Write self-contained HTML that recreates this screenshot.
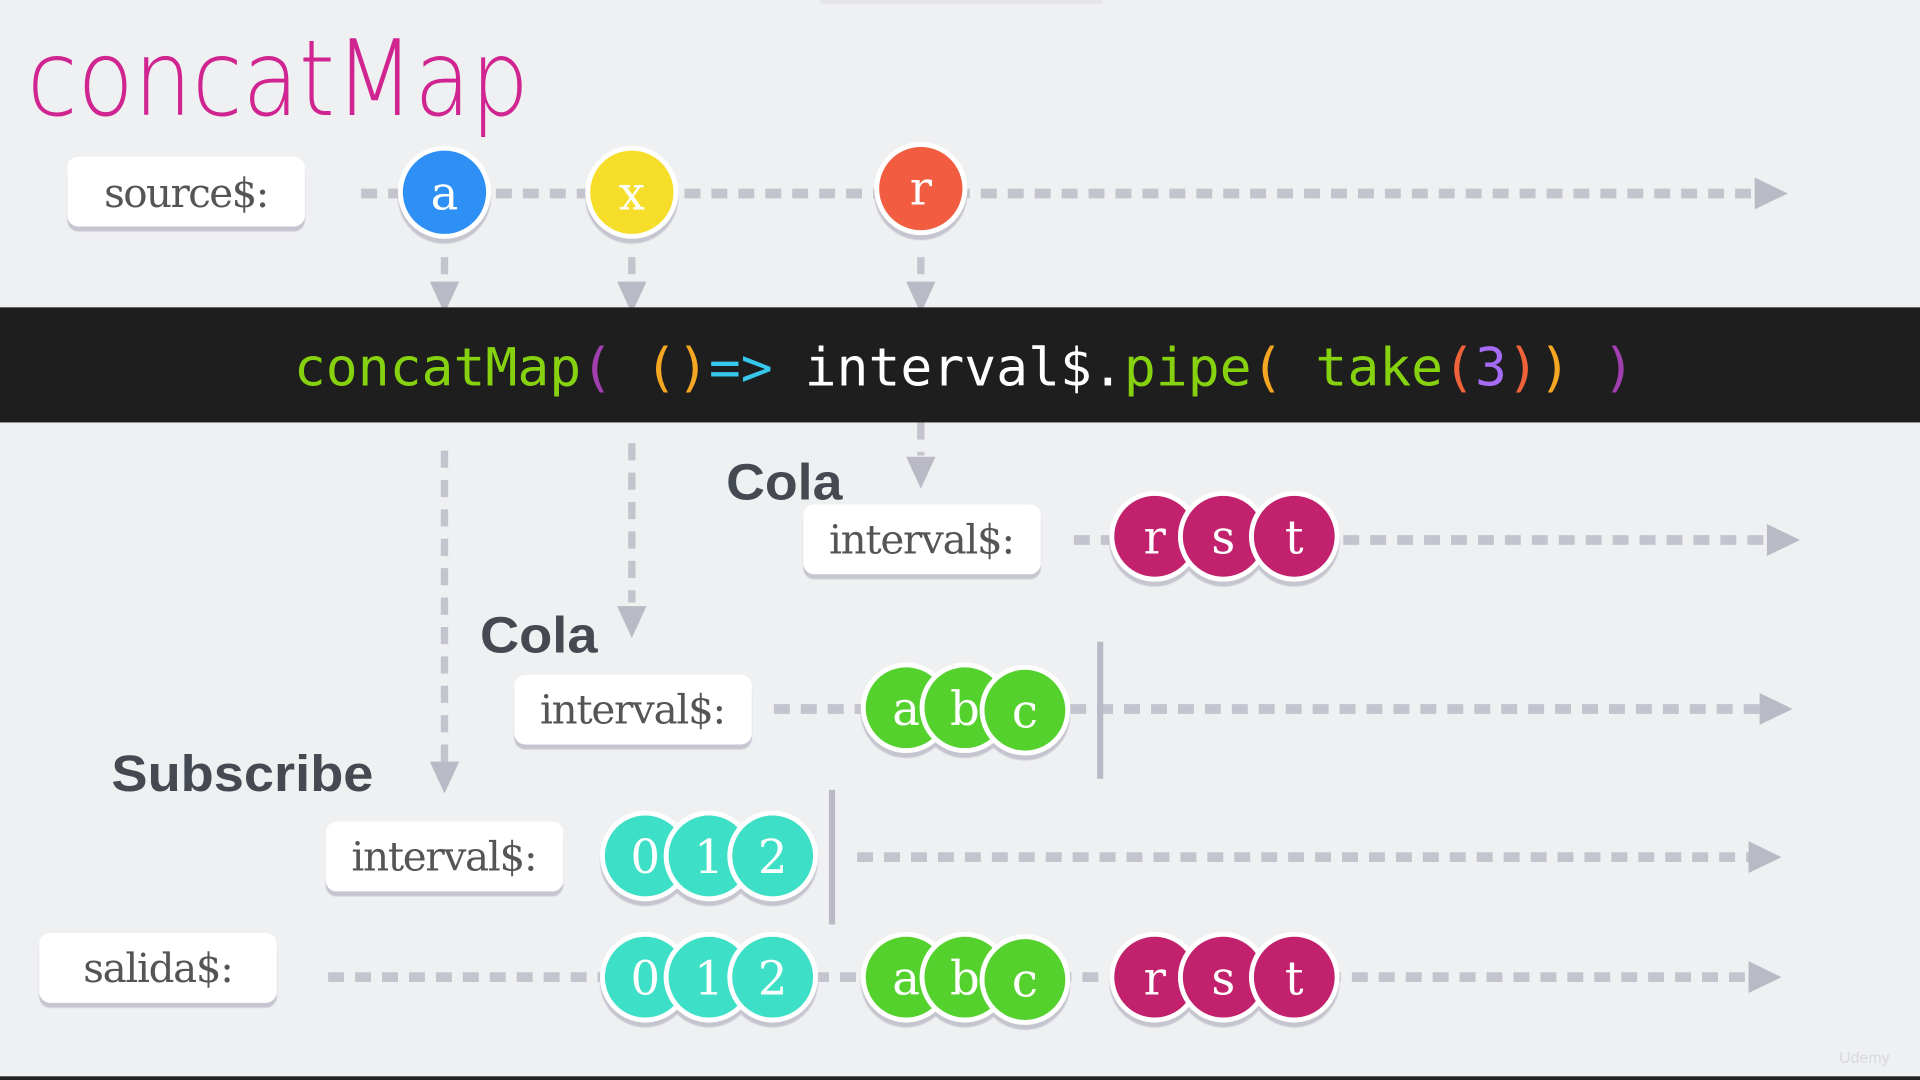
<!DOCTYPE html>
<html><head><meta charset="utf-8"><style>html,body{margin:0;padding:0;background:#eff0f2;overflow:hidden}svg{display:block}</style></head>
<body>
<svg width="1920" height="1080" viewBox="0 0 1568 882" xmlns="http://www.w3.org/2000/svg">
<defs>
<filter id="sh" x="-20%" y="-20%" width="140%" height="160%"><feDropShadow dx="0" dy="4" stdDeviation="0.5" flood-color="#c4c5cf" flood-opacity="1"/></filter>
</defs>
<rect width="1568" height="882" fill="#eff0f2"/>
<rect x="670" y="0" width="230" height="3" fill="#e4e5e9"/>
<rect x="0" y="879" width="1568" height="3" fill="#222"/>
<text x="22" y="94" font-family="DejaVu Sans ExtraLight, DejaVu Sans, sans-serif" font-weight="200" font-size="86" fill="#d02590" textLength="410" lengthAdjust="spacingAndGlyphs">concatMap</text>

<g stroke="#c3c4cd" stroke-width="8" stroke-dasharray="13 9" fill="none">
<line x1="295" y1="158" x2="1435" y2="158"/>
<line x1="877" y1="441" x2="1445" y2="441"/>
<line x1="632" y1="579" x2="1440" y2="579"/>
<line x1="700" y1="700" x2="1430" y2="700"/>
<line x1="268" y1="798" x2="1430" y2="798"/>
</g>
<g stroke="#c3c4cd" stroke-width="6" stroke-dasharray="14 10" fill="none">
<line x1="363" y1="210" x2="363" y2="232"/>
<line x1="516" y1="210" x2="516" y2="232"/>
<line x1="752" y1="210" x2="752" y2="232"/>
<line x1="363" y1="368" x2="363" y2="622"/>
<line x1="516" y1="362" x2="516" y2="492"/>
<line x1="752" y1="345" x2="752" y2="372"/>
</g>
<g fill="#b9bac5">
<polygon points="1433,145 1460,158 1433,171"/>
<polygon points="1443,428 1470,441 1443,454"/>
<polygon points="1437,566 1464,579 1437,592"/>
<polygon points="1428,687 1455,700 1428,713"/>
<polygon points="1428,785 1455,798 1428,811"/>
<polygon points="351,230 375,230 363,256"/>
<polygon points="504,230 528,230 516,256"/>
<polygon points="740,230 764,230 752,256"/>
<polygon points="351,622 375,622 363,648"/>
<polygon points="504,495 528,495 516,521"/>
<polygon points="740,373 764,373 752,399"/>
<rect x="896" y="524" width="5" height="112"/>
<rect x="677" y="645" width="5" height="110"/>
</g>

<rect x="0" y="251" width="1568" height="94" fill="#1e1e1e"/>
<text x="240" y="315" font-family="DejaVu Sans Mono, Liberation Mono, monospace" font-size="43" textLength="1095" lengthAdjust="spacingAndGlyphs" xml:space="preserve"><tspan fill="#86d20f">concatMap</tspan><tspan fill="#a23fb0">(</tspan> <tspan fill="#f5a623">()</tspan><tspan fill="#35c8ec">=&gt;</tspan> <tspan fill="#ffffff">interval$.</tspan><tspan fill="#86d20f">pipe</tspan><tspan fill="#f5a623">(</tspan> <tspan fill="#86d20f">take</tspan><tspan fill="#f0623a">(</tspan><tspan fill="#a66cf5">3</tspan><tspan fill="#f0623a">)</tspan><tspan fill="#f5a623">)</tspan> <tspan fill="#a23fb0">)</tspan></text>

<g font-family="Liberation Sans, sans-serif" font-weight="bold" font-size="42" fill="#454a52">
<text x="593" y="408" textLength="95" lengthAdjust="spacingAndGlyphs">Cola</text>
<text x="392" y="533" textLength="96" lengthAdjust="spacingAndGlyphs">Cola</text>
<text x="91" y="646" textLength="214" lengthAdjust="spacingAndGlyphs">Subscribe</text>
</g>

<g filter="url(#sh)" fill="#ffffff">
<rect x="55" y="128" width="194" height="57" rx="9"/>
<rect x="656" y="412" width="194" height="57" rx="9"/>
<rect x="420" y="551" width="194" height="57" rx="9"/>
<rect x="266" y="671" width="194" height="57" rx="9"/>
<rect x="32" y="762" width="194" height="57" rx="9"/>
</g>
<g font-family="DejaVu Serif, Liberation Serif, serif" font-size="33" fill="#555" lengthAdjust="spacingAndGlyphs">
<text x="85" y="169" textLength="135">source$:</text>
<text x="677" y="452" textLength="152">interval$:</text>
<text x="441" y="591" textLength="152">interval$:</text>
<text x="287" y="711" textLength="152">interval$:</text>
<text x="68" y="802" textLength="123">salida$:</text>
</g>

<g filter="url(#sh)" stroke="#fff" stroke-width="4">
<circle cx="363" cy="157" r="36" fill="#2f90f5"/>
<circle cx="516" cy="157" r="36" fill="#f6dd2a"/>
<circle cx="752" cy="154" r="36" fill="#f25b40"/>
<circle cx="943" cy="438" r="35" fill="#c2226d"/>
<circle cx="999" cy="438" r="35" fill="#c2226d"/>
<circle cx="1057" cy="438" r="35" fill="#c2226d"/>
<circle cx="740" cy="578" r="35" fill="#55d12f"/>
<circle cx="788" cy="578" r="35" fill="#55d12f"/>
<circle cx="837" cy="580" r="35" fill="#55d12f"/>
<circle cx="527" cy="699" r="35" fill="#3ee0c6"/>
<circle cx="579" cy="699" r="35" fill="#3ee0c6"/>
<circle cx="631" cy="699" r="35" fill="#3ee0c6"/>
<circle cx="527" cy="798" r="35" fill="#3ee0c6"/>
<circle cx="579" cy="798" r="35" fill="#3ee0c6"/>
<circle cx="631" cy="798" r="35" fill="#3ee0c6"/>
<circle cx="740" cy="798" r="35" fill="#55d12f"/>
<circle cx="788" cy="798" r="35" fill="#55d12f"/>
<circle cx="837" cy="800" r="35" fill="#55d12f"/>
<circle cx="943" cy="798" r="35" fill="#c2226d"/>
<circle cx="999" cy="798" r="35" fill="#c2226d"/>
<circle cx="1057" cy="798" r="35" fill="#c2226d"/>
</g>
<g font-family="DejaVu Serif, Liberation Serif, serif" font-size="38" fill="#fff" text-anchor="middle">
<text x="363" y="171">a</text>
<text x="516" y="171">x</text>
<text x="752" y="167">r</text>
<text x="943" y="452">r</text><text x="999" y="452">s</text><text x="1057" y="452">t</text>
<text x="740" y="592">a</text><text x="788" y="592">b</text><text x="837" y="594">c</text>
<text x="527" y="713">0</text><text x="579" y="713">1</text><text x="631" y="713">2</text>
<text x="527" y="812">0</text><text x="579" y="812">1</text><text x="631" y="812">2</text>
<text x="740" y="812">a</text><text x="788" y="812">b</text><text x="837" y="814">c</text>
<text x="943" y="812">r</text><text x="999" y="812">s</text><text x="1057" y="812">t</text>
</g>
<text x="1502" y="868" font-family="Liberation Sans, sans-serif" font-size="13" fill="#d8d9de">Udemy</text>
</svg>
</body></html>
